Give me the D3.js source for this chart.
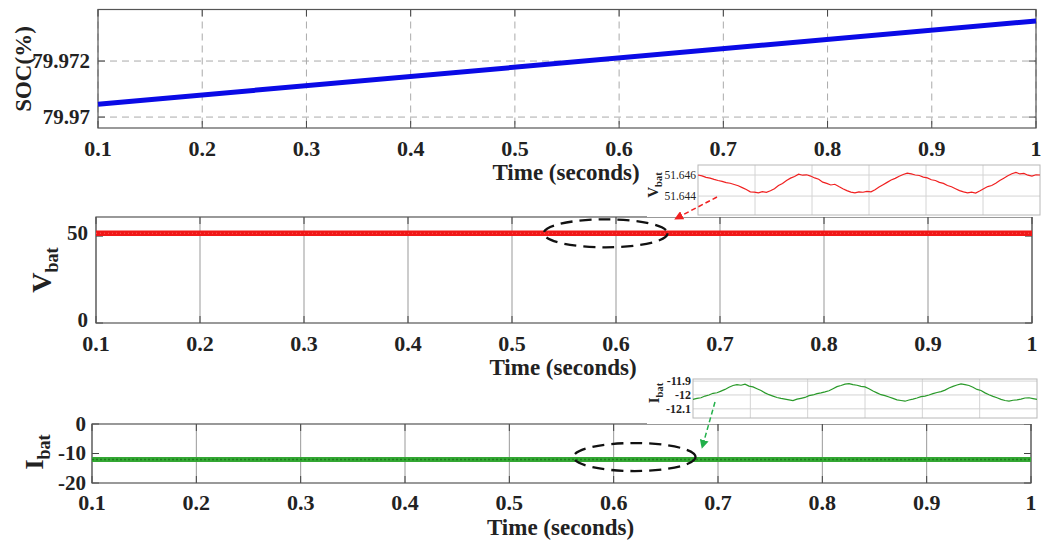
<!DOCTYPE html>
<html><head><meta charset="utf-8">
<script src="https://cdn.jsdelivr.net/npm/d3@7"></script>
<style>
body{margin:0;background:#fff;}
svg{display:block;}
text{font-family:"Liberation Serif","Times New Roman",serif;fill:#222;}
</style>
</head><body>
<svg id="c" width="1044" height="543"></svg>
<script>
// ---------- DATA ----------
const timeTicks = [0.1,0.2,0.3,0.4,0.5,0.6,0.7,0.8,0.9,1.0];
const timeTickLabels = ["0.1","0.2","0.3","0.4","0.5","0.6","0.7","0.8","0.9","1"];

const socTime = [0.1, 1.0];
const socValues = [79.97046, 79.97343];
const socTicks = [79.970, 79.972];
const socTickLabels = ["79.97", "79.972"];

const vbatTime = [0.1, 1.0];
const vbatValues = [51.645, 51.645];
const vbatTicks = [0, 50];
const vbatTickLabels = ["0", "50"];

const ibatTime = [0.1, 1.0];
const ibatValues = [-12, -12];
const ibatTicks = [-20, -10, 0];
const ibatTickLabels = ["-20", "-10", "0"];

const vbatZoomValues = [51.64600,51.64592,51.64578,51.64570,51.64558,51.64548,51.64540,51.64528,51.64522,51.64510,
51.64498,51.64480,51.64462,51.64440,51.64438,51.64430,51.64442,51.64436,51.64450,51.64470,
51.64500,51.64520,51.64548,51.64570,51.64585,51.64608,51.64598,51.64602,51.64590,51.64572,
51.64560,51.64532,51.64520,51.64505,51.64512,51.64490,51.64470,51.64452,51.64438,51.64430,
51.64440,51.64436,51.64445,51.64440,51.64460,51.64485,51.64508,51.64530,51.64552,51.64568,
51.64588,51.64605,51.64618,51.64610,51.64600,51.64595,51.64580,51.64572,51.64555,51.64548,
51.64530,51.64520,51.64500,51.64488,51.64470,51.64452,51.64440,51.64430,51.64438,51.64428,
51.64448,51.64470,51.64490,51.64500,51.64522,51.64548,51.64570,51.64592,51.64612,51.64625,
51.64610,51.64615,51.64598,51.64590,51.64602,51.64600];
const vbatZoomTicks = [51.644, 51.646];
const vbatZoomTickLabels = ["51.644", "51.646"];

const ibatZoomValues = [-12.032,-12.025,-12.020,-12.008,-12.000,-11.988,-11.984,-11.972,-11.960,-11.945,
-11.932,-11.925,-11.930,-11.922,-11.936,-11.942,-11.955,-11.968,-11.985,-11.998,
-12.008,-12.018,-12.025,-12.030,-12.035,-12.040,-12.030,-12.024,-12.018,-12.005,
-12.000,-11.990,-11.985,-11.978,-11.970,-11.955,-11.940,-11.932,-11.922,-11.918,
-11.925,-11.930,-11.938,-11.942,-11.955,-11.972,-11.985,-11.998,-12.005,-12.015,
-12.025,-12.035,-12.040,-12.045,-12.036,-12.030,-12.022,-12.012,-12.008,-12.000,
-11.990,-11.982,-11.976,-11.965,-11.950,-11.938,-11.928,-11.920,-11.926,-11.932,
-11.945,-11.960,-11.968,-11.985,-11.998,-12.010,-12.020,-12.032,-12.040,-12.044,
-12.038,-12.035,-12.030,-12.022,-12.020,-12.026,-12.032];
const ibatZoomTicks = [-12.1, -12, -11.9];
const ibatZoomTickLabels = ["-12.1", "-12", "-11.9"];

// ---------- DRAW ----------
const svg = d3.select("#c");
const axisColor = "#555";

function drawPanel(o) {
  const g = svg.append("g");
  const x = d3.scaleLinear([0.1, 1.0], [o.x0, o.x1]);
  const y = d3.scaleLinear(o.yDomain, [o.y1, o.y0]);
  g.selectAll(".vg").data(timeTicks).join("line")
    .attr("x1", d => x(d)).attr("x2", d => x(d))
    .attr("y1", o.y0).attr("y2", o.y1)
    .attr("stroke", o.gridColor).attr("stroke-width", 1)
    .attr("stroke-dasharray", o.dashed ? "7,5" : null);
  if (o.hGrid) {
    g.selectAll(".hg").data(o.yTicks).join("line")
      .attr("x1", o.x0).attr("x2", o.x1)
      .attr("y1", d => y(d)).attr("y2", d => y(d))
      .attr("stroke", o.gridColor).attr("stroke-width", 1)
      .attr("stroke-dasharray", "7,5");
  }
  const tl = 7;
  g.selectAll(".tb").data(timeTicks).join("line")
    .attr("x1", d => x(d)).attr("x2", d => x(d))
    .attr("y1", o.y1).attr("y2", o.y1 - tl).attr("stroke", "#444");
  g.selectAll(".tt").data(timeTicks).join("line")
    .attr("x1", d => x(d)).attr("x2", d => x(d))
    .attr("y1", o.y0).attr("y2", o.y0 + tl).attr("stroke", "#444");
  g.selectAll(".tlft").data(o.yTicks).join("line")
    .attr("x1", o.x0).attr("x2", o.x0 + tl)
    .attr("y1", d => y(d)).attr("y2", d => y(d)).attr("stroke", "#444");
  g.selectAll(".trgt").data(o.yTicks).join("line")
    .attr("x1", o.x1).attr("x2", o.x1 - tl)
    .attr("y1", d => y(d)).attr("y2", d => y(d)).attr("stroke", "#444");
  g.append("rect").attr("x", o.x0).attr("y", o.y0)
    .attr("width", o.x1 - o.x0).attr("height", o.y1 - o.y0)
    .attr("fill", "none").attr("stroke", axisColor).attr("stroke-width", 1.2);
  g.selectAll(".xl").data(timeTicks).join("text")
    .attr("x", d => x(d)).attr("y", o.xLabelY)
    .attr("text-anchor", "middle").attr("font-size", 22).attr("font-weight", "bold")
    .text((d, i) => timeTickLabels[i]);
  g.selectAll(".yl").data(o.yTicks).join("text")
    .attr("x", o.yLabelX).attr("y", d => y(d)).attr("dy", o.yDy || "0.33em")
    .attr("text-anchor", "end").attr("font-size", o.yFont).attr("font-weight", "bold")
    .text((d, i) => o.yTickLabels[i]);
  g.append("text").attr("x", (o.x0 + o.x1) / 2 - 1).attr("y", o.titleY)
    .attr("text-anchor", "middle").attr("font-size", 23).attr("font-weight", "bold")
    .text("Time (seconds)");
  return {x, y, g};
}

// Top panel: SOC
const p1 = drawPanel({x0: 98, x1: 1036, y0: 9.5, y1: 128, yDomain: [79.96961, 79.97384],
  yTicks: socTicks, yTickLabels: socTickLabels, gridColor: "#aaa", dashed: true, hGrid: true,
  xLabelY: 156, yLabelX: 90, yFont: 21, titleY: 180});
p1.g.append("path")
  .attr("d", d3.line().x((d, i) => p1.x(socTime[i])).y(d => p1.y(d))(socValues))
  .attr("fill", "none").attr("stroke", "#0a0ae6").attr("stroke-width", 5);
p1.g.append("text").attr("transform", "translate(31,69) rotate(-90)")
  .attr("text-anchor", "middle").attr("font-size", 23).attr("font-weight", "bold").text("SOC(%)");

// Middle panel: Vbat
const p2 = drawPanel({x0: 96, x1: 1032, y0: 217, y1: 323, yDomain: [0, 61],
  yTicks: vbatTicks, yTickLabels: vbatTickLabels, gridColor: "#999", dashed: false, hGrid: false,
  xLabelY: 351, yLabelX: 88, yFont: 21, yDy: "0.2em", titleY: 375});
p2.g.append("path")
  .attr("d", d3.line().x((d, i) => p2.x(vbatTime[i])).y(d => p2.y(d))(vbatValues))
  .attr("fill", "none").attr("stroke", "#f01818").attr("stroke-width", 5.5);
p2.g.append("path")
  .attr("d", d3.line().x((d, i) => p2.x(vbatTime[i])).y(d => p2.y(d))(vbatValues))
  .attr("fill", "none").attr("stroke", "#ff5a5a").attr("stroke-width", 1).attr("stroke-dasharray", "1,3");
const vl = p2.g.append("text").attr("transform", "translate(51,270) rotate(-90)")
  .attr("text-anchor", "middle").attr("font-weight", "bold");
vl.append("tspan").attr("font-size", 28).text("V");
vl.append("tspan").attr("font-size", 18).attr("dy", 7).text("bat");

// Bottom panel: Ibat
const p3 = drawPanel({x0: 92, x1: 1031, y0: 424, y1: 483, yDomain: [-20, 0],
  yTicks: ibatTicks, yTickLabels: ibatTickLabels, gridColor: "#999", dashed: false, hGrid: false,
  xLabelY: 510, yLabelX: 86, yFont: 21, titleY: 535});
p3.g.append("path")
  .attr("d", d3.line().x((d, i) => p3.x(ibatTime[i])).y(d => p3.y(d))(ibatValues))
  .attr("fill", "none").attr("stroke", "#34a834").attr("stroke-width", 5);
p3.g.append("path")
  .attr("d", d3.line().x((d, i) => p3.x(ibatTime[i])).y(d => p3.y(d))(ibatValues))
  .attr("fill", "none").attr("stroke", "#1d7a1d").attr("stroke-width", 1.5).attr("stroke-dasharray", "2,2");
const il = p3.g.append("text").attr("transform", "translate(43,452) rotate(-90)")
  .attr("text-anchor", "middle").attr("font-weight", "bold");
il.append("tspan").attr("font-size", 26).text("I");
il.append("tspan").attr("font-size", 18).attr("dy", 7).text("bat");

// Insets
function drawInset(o) {
  const g = svg.append("g");
  g.append("rect").attr("x", o.cx0).attr("y", o.cy0).attr("width", o.cx1 - o.cx0)
    .attr("height", o.cy1 - o.cy0).attr("fill", "#fff");
  const x = d3.scaleLinear([0, o.values.length - 1], [o.x0, o.x1]);
  const y = d3.scaleLinear(o.yDomain, [o.y1, o.y0]);
  const gx = d3.scaleLinear([0, 6], [o.x0, o.x1]);
  g.selectAll(".v").data(d3.range(1, 6)).join("line")
    .attr("x1", d => gx(d)).attr("x2", d => gx(d)).attr("y1", o.y0).attr("y2", o.y1)
    .attr("stroke", "#d4d4d4");
  g.selectAll(".h").data(o.ticks).join("line")
    .attr("x1", o.x0).attr("x2", o.x1).attr("y1", d => y(d)).attr("y2", d => y(d))
    .attr("stroke", "#d4d4d4");
  g.append("rect").attr("x", o.x0).attr("y", o.y0).attr("width", o.x1 - o.x0)
    .attr("height", o.y1 - o.y0).attr("fill", "none").attr("stroke", "#b8b8b8");
  g.append("path").attr("d", d3.line().x((d, i) => x(i)).y(d => y(d))(o.values))
    .attr("fill", "none").attr("stroke", o.color).attr("stroke-width", 1.2);
  g.selectAll(".tl").data(o.ticks).join("text")
    .attr("x", o.x0 - 2).attr("y", d => y(d)).attr("dy", "0.35em")
    .attr("text-anchor", "end").attr("font-size", o.tickFont).attr("font-weight", o.tickWeight)
    .text((d, i) => o.tickLabels[i]);
  const t = g.append("text").attr("transform", `translate(${o.labelX},${o.labelY}) rotate(-90)`)
    .attr("text-anchor", "middle").attr("font-weight", "bold");
  t.append("tspan").attr("font-size", o.symFont).text(o.sym);
  t.append("tspan").attr("font-size", 10.5).attr("dy", 3.5).text("bat");
  return g;
}
drawInset({cx0: 647, cx1: 1044, cy0: 158, cy1: 217, x0: 698, x1: 1040, y0: 165, y1: 215,
  yDomain: [51.6422, 51.64695], values: vbatZoomValues, ticks: vbatZoomTicks,
  tickLabels: vbatZoomTickLabels, color: "#f02020", tickFont: 11.5, tickWeight: "normal",
  sym: "V", symFont: 15, labelX: 658, labelY: 185});
drawInset({cx0: 647, cx1: 1044, cy0: 370, cy1: 424, x0: 693, x1: 1037, y0: 379, y1: 418,
  yDomain: [-12.166, -11.885], values: ibatZoomValues, ticks: ibatZoomTicks,
  tickLabels: ibatZoomTickLabels, color: "#2a9a2a", tickFont: 12, tickWeight: "bold",
  sym: "I", symFont: 15, labelX: 659, labelY: 393});

// Ellipses
svg.append("ellipse").attr("cx", p2.x(0.59)).attr("cy", p2.y(51.6)).attr("rx", 62).attr("ry", 14)
  .attr("fill", "none").attr("stroke", "#111").attr("stroke-width", 2.3).attr("stroke-dasharray", "12,7");
svg.append("ellipse").attr("cx", p3.x(0.62)).attr("cy", p3.y(-11.2)).attr("rx", 61).attr("ry", 14)
  .attr("fill", "none").attr("stroke", "#111").attr("stroke-width", 2.3).attr("stroke-dasharray", "12,7");

// Arrows
const defs = svg.append("defs");
[["ar", "#f02020"], ["ag", "#22b04a"]].forEach(([id, c]) => {
  defs.append("marker").attr("id", id).attr("viewBox", "0 0 10 10").attr("refX", 9).attr("refY", 5)
    .attr("markerWidth", 9).attr("markerHeight", 9).attr("markerUnits", "userSpaceOnUse")
    .attr("orient", "auto")
    .append("path").attr("d", "M0,0 L10,5 L0,10 z").attr("fill", c);
});
svg.append("line").attr("x1", 717).attr("y1", 197).attr("x2", 675).attr("y2", 219)
  .attr("stroke", "#f02020").attr("stroke-width", 1.5).attr("stroke-dasharray", "5,3")
  .attr("marker-end", "url(#ar)");
svg.append("line").attr("x1", 715).attr("y1", 402).attr("x2", 702).attr("y2", 448)
  .attr("stroke", "#22b04a").attr("stroke-width", 1.5).attr("stroke-dasharray", "5,3")
  .attr("marker-end", "url(#ag)");
</script>
</body></html>
